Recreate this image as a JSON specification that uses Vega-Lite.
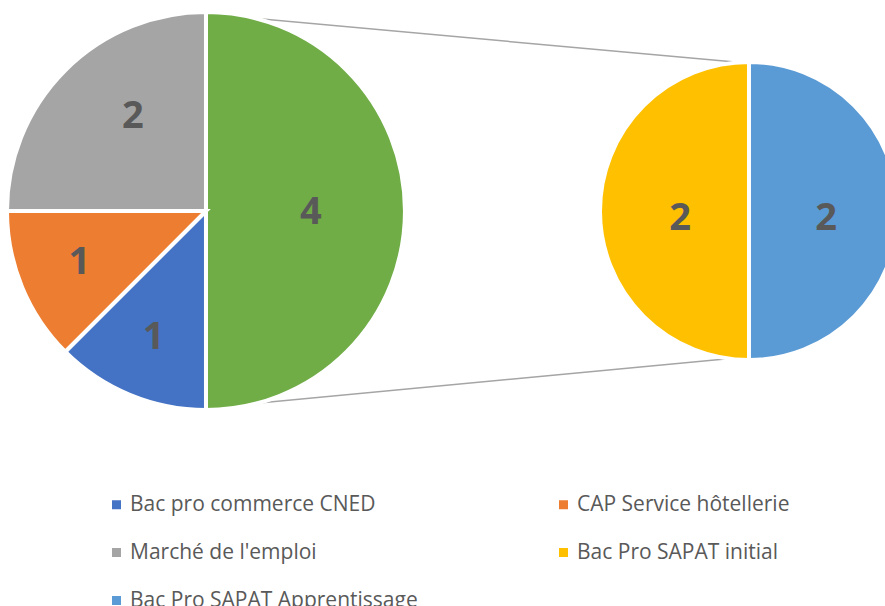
{
  "$schema": "https://vega.github.io/schema/vega-lite/v6.json",
  "width": 885,
  "height": 394,
  "padding": {"left": 0, "top": 14, "right": 0, "bottom": 198},
  "autosize": {"type": "none"},
  "config": {"view": {"stroke": null}},
  "datasets": {
    "slices": [
      {"pie": "main", "cat": "Autre", "value": 4},
      {"pie": "main", "cat": "Bac pro commerce CNED", "value": 1},
      {"pie": "main", "cat": "CAP Service hôtellerie", "value": 1},
      {"pie": "main", "cat": "Marché de l'emploi", "value": 2},
      {"pie": "detail", "cat": "Bac Pro SAPAT Apprentissage", "value": 2},
      {"pie": "detail", "cat": "Bac Pro SAPAT initial", "value": 2}
    ],
    "links": [
      {"pie": "main", "edge": "top", "y": 1},
      {"pie": "detail", "edge": "top", "y": 0.75},
      {"pie": "main", "edge": "bottom", "y": -1},
      {"pie": "detail", "edge": "bottom", "y": -0.74}
    ]
  },
  "layer": [
    {
      "data": {"name": "links"},
      "mark": {"type": "line", "color": "#A5A5A5", "strokeWidth": 1.5},
      "encoding": {
        "x": {"field": "pie", "type": "nominal", "scale": {"type": "point", "domain": ["main", "detail"], "padding": 0.3149, "align": 0.6023}, "axis": null},
        "y": {"field": "y", "type": "quantitative", "scale": {"domain": [-1, 1], "nice": false, "zero": false}, "axis": null},
        "detail": {"field": "edge"}
      }
    },
    {
      "data": {"name": "slices"},
      "transform": [{"filter": "datum.pie == 'main'"}],
      "encoding": {
        "x": {"field": "pie", "type": "nominal", "scale": {"type": "point", "domain": ["main", "detail"], "padding": 0.3149, "align": 0.6023}, "axis": null},
        "theta": {"field": "value", "type": "quantitative", "stack": true},
        "order": {"field": "cat", "type": "nominal", "sort": "ascending"}
      },
      "layer": [
        {
          "mark": {"type": "arc", "outerRadius": 199, "stroke": "white", "strokeWidth": 4},
          "encoding": {
            "color": {
              "field": "cat", "type": "nominal",
              "scale": {
                "domain": ["Bac pro commerce CNED", "CAP Service hôtellerie", "Marché de l'emploi", "Bac Pro SAPAT initial", "Bac Pro SAPAT Apprentissage", "Autre"],
                "range": ["#4472C4", "#ED7D31", "#A5A5A5", "#FFC000", "#5B9BD5", "#70AD47"]
              },
              "legend": {
                "values": ["Bac pro commerce CNED", "CAP Service hôtellerie", "Marché de l'emploi", "Bac Pro SAPAT initial", "Bac Pro SAPAT Apprentissage"],
                "title": null,
                "orient": "none",
                "legendX": 106,
                "legendY": 480,
                "columns": 2,
                "direction": "horizontal",
                "symbolType": "square",
                "symbolSize": 81,
                "symbolStrokeWidth": 0,
                "labelFont": "Open Sans",
                "labelFontSize": 21,
                "labelColor": "#595959",
                "labelOffset": 3,
                "labelLimit": 400,
                "rowPadding": 26,
                "columnPadding": 135,
                "padding": 0
              }
            }
          }
        },
        {
          "mark": {"type": "text", "radius": 137, "font": "Open Sans", "fontWeight": "bold", "fontSize": 38, "color": "#595959"},
          "encoding": {
            "detail": {"field": "cat"},
            "text": {"condition": {"test": "datum.cat == 'Autre' || datum.cat == \"Marché de l'emploi\"", "value": ""}, "field": "value", "type": "quantitative"}
          }
        },
        {
          "mark": {"type": "text", "radius": 119, "dx": 11, "dy": -10, "font": "Open Sans", "fontWeight": "bold", "fontSize": 38, "color": "#595959"},
          "encoding": {
            "detail": {"field": "cat"},
            "text": {"condition": {"test": "datum.cat != \"Marché de l'emploi\"", "value": ""}, "field": "value", "type": "quantitative"}
          }
        },
        {
          "mark": {"type": "text", "radius": 105, "dy": 2, "font": "Open Sans", "fontWeight": "bold", "fontSize": 38, "color": "#595959"},
          "encoding": {
            "detail": {"field": "cat"},
            "text": {"condition": {"test": "datum.cat != 'Autre'", "value": ""}, "field": "value", "type": "quantitative"}
          }
        }
      ]
    },
    {
      "data": {"name": "slices"},
      "transform": [{"filter": "datum.pie == 'detail'"}],
      "encoding": {
        "x": {"field": "pie", "type": "nominal", "scale": {"type": "point", "domain": ["main", "detail"], "padding": 0.3149, "align": 0.6023}, "axis": null},
        "theta": {"field": "value", "type": "quantitative", "stack": true},
        "order": {"field": "cat", "type": "nominal", "sort": "ascending"}
      },
      "layer": [
        {
          "mark": {"type": "arc", "outerRadius": 149, "stroke": "white", "strokeWidth": 4},
          "encoding": {
            "color": {"field": "cat", "type": "nominal"}
          }
        },
        {
          "mark": {"type": "text", "radius": 73, "dx": 4, "dy": 8, "font": "Open Sans", "fontWeight": "bold", "fontSize": 38, "color": "#595959"},
          "encoding": {
            "detail": {"field": "cat"},
            "text": {"field": "value", "type": "quantitative"}
          }
        }
      ]
    }
  ],
  "resolve": {"scale": {"theta": "independent"}}
}
